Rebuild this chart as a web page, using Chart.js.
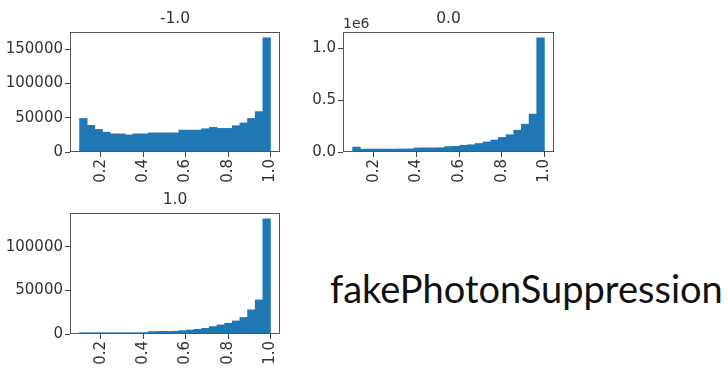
<!DOCTYPE html>
<html>
<head>
<meta charset="utf-8">
<script src="https://cdn.jsdelivr.net/npm/chart.js@4"></script>
<style>
  body { margin: 0; background: #fff; }
  #page { position: relative; width: 728px; height: 369px; overflow: hidden; }
  canvas { position: absolute; }
  #bigLabel {
    position: absolute; left: 330px; top: 265px;
    font-family: Lato, "Noto Sans", sans-serif; font-size: 38px; color: #111;
    white-space: nowrap;
  }
</style>
</head>
<body>
<div id="page">
  <canvas id="histNeg"></canvas>
  <canvas id="histZero"></canvas>
  <canvas id="histPos"></canvas>
  <div id="bigLabel">fakePhotonSuppression</div>
</div>
<script>
// histogram bins: 25 bins from 0.1 to 1.0
const binLeft = 0.1;
const binWidth = 0.036;
const xTicks = [0.2, 0.4, 0.6, 0.8, 1.0];

// counts per bin, one array per group
const countsNeg = [49000, 39000, 33000, 29000, 26500, 26500, 25000, 26500, 26500, 28000,
  28000, 28000, 28000, 32000, 32000, 32000, 34000, 36000, 34500, 34500,
  38500, 42500, 49000, 59000, 167000];
const countsZero = [48000, 28000, 28000, 28000, 28000, 28000, 29000, 30000, 39000, 40000,
  40000, 41000, 52000, 55000, 65000, 70000, 82000, 97000, 115000, 140000,
  166000, 210000, 268000, 365000, 1100000];
const countsPos = [1500, 1500, 1500, 1500, 1500, 1500, 1500, 1500, 1600, 2800,
  3000, 3000, 3200, 3900, 4600, 5400, 6500, 8500, 10400, 12300,
  15000, 19000, 27700, 39000, 132000];

const ticksNeg = [0, 50000, 100000, 150000];
const ticksZero = [0, 500000, 1000000];
const ticksPos = [0, 50000, 100000];

const BLUE = '#1f77b4';
const TEXT = '#333';
const tickFont = { family: '"DejaVu Sans", sans-serif', size: 15 };

// draws the subplot title, the axes frame and an optional offset label ("1e6")
const panelDecor = {
  id: 'panelDecor',
  afterDraw(chart, args, opts) {
    const a = chart.chartArea;
    const ctx = chart.ctx;
    ctx.save();
    ctx.strokeStyle = '#555';
    ctx.lineWidth = 1;
    ctx.strokeRect(a.left + 0.5, a.top + 0.5, a.right - a.left - 1, a.bottom - a.top - 1);
    ctx.fillStyle = TEXT;
    ctx.font = '15.5px "DejaVu Sans", sans-serif';
    ctx.textAlign = 'center';
    ctx.textBaseline = 'alphabetic';
    ctx.fillText(opts.title, (a.left + a.right) / 2, a.top - 9);
    if (opts.offset) {
      ctx.font = '14px "DejaVu Sans", sans-serif';
      ctx.textAlign = 'left';
      ctx.fillText(opts.offset, a.left, a.top - 4);
    }
    ctx.restore();
  }
};

function makeHist(id, area, counts, yTicks, yMax, title, fmt, offset) {
  const padL = 72, padT = 32, padR = 14, padB = 36;
  const cv = document.getElementById(id);
  const w = area.right - area.left + padL + padR;
  const h = area.bottom - area.top + padT + padB;
  cv.width = w; cv.height = h;
  cv.style.left = (area.left - padL) + 'px';
  cv.style.top = (area.top - padT) + 'px';

  const points = counts.map((c, i) => ({ x: binLeft + binWidth * (i + 0.5), y: c }));

  new Chart(cv.getContext('2d'), {
    type: 'bar',
    data: {
      datasets: [{
        data: points,
        backgroundColor: BLUE,
        borderWidth: 0,
        barPercentage: 1,
        categoryPercentage: 1
      }]
    },
    options: {
      responsive: false,
      animation: false,
      events: [],
      layout: { padding: { top: padT, right: padR, left: 0, bottom: 0 } },
      plugins: {
        legend: { display: false },
        tooltip: { enabled: false },
        panelDecor: { title: title, offset: offset }
      },
      scales: {
        x: {
          type: 'linear',
          offset: false,
          min: 0.055, max: 1.045,
          afterBuildTicks: s => { s.ticks = xTicks.map(v => ({ value: v })); },
          afterFit: s => { s.height = padB; },
          grid: { display: true, drawOnChartArea: false, offset: false, tickLength: 5, color: '#444' },
          border: { display: false },
          ticks: {
            color: TEXT, font: tickFont, padding: 2,
            minRotation: 90, maxRotation: 90, autoSkip: false,
            callback: v => v.toFixed(1)
          }
        },
        y: {
          min: 0, max: yMax,
          afterBuildTicks: s => { s.ticks = yTicks.map(v => ({ value: v })); },
          afterFit: s => { s.width = padL; },
          grid: { display: true, drawOnChartArea: false, tickLength: 5, color: '#444' },
          border: { display: false },
          ticks: { color: TEXT, font: tickFont, padding: 2, autoSkip: false, callback: fmt }
        }
      }
    },
    plugins: [panelDecor]
  });
}

makeHist('histNeg', { left: 70, top: 32, right: 280, bottom: 152 },
  countsNeg, ticksNeg, 175350, '-1.0', v => String(v));
makeHist('histZero', { left: 343, top: 32, right: 554, bottom: 152 },
  countsZero, ticksZero, 1155000, '0.0', v => (v / 1e6).toFixed(1), '1e6');
makeHist('histPos', { left: 70, top: 213, right: 280, bottom: 334 },
  countsPos, ticksPos, 138600, '1.0', v => String(v));
</script>
</body>
</html>
